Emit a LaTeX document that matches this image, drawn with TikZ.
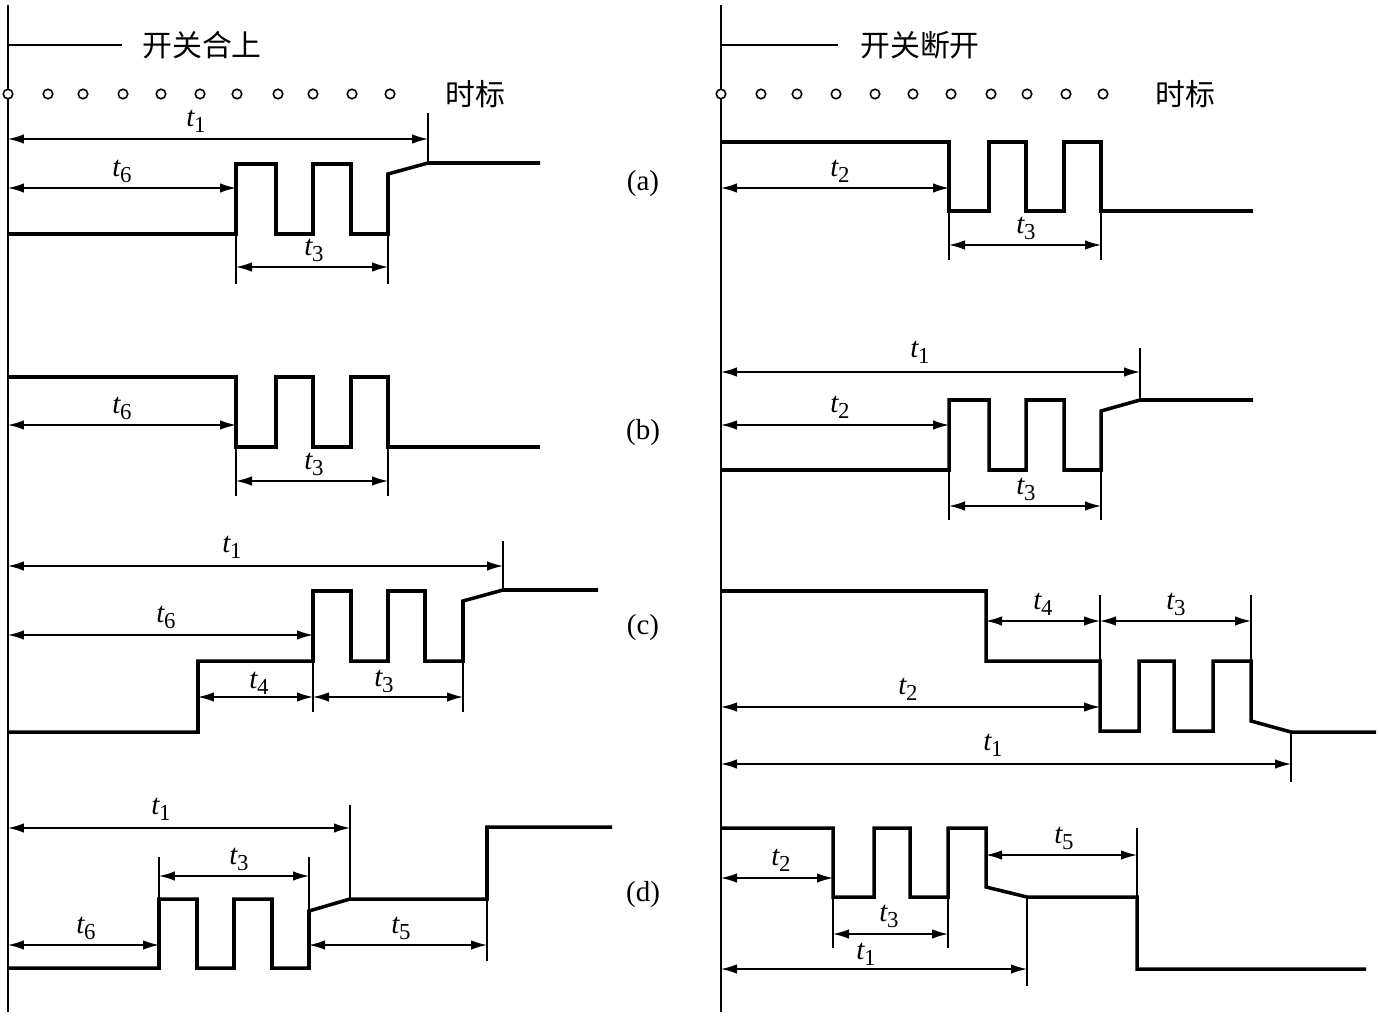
\documentclass[tikz,border=0pt]{standalone}
\usepackage{fontspec}
\setmainfont{Liberation Serif}
\newfontfamily\cjk{Noto Sans CJK SC}
\usetikzlibrary{arrows.meta,positioning}
\newcommand{\tsub}[1]{\textit{t}\kern-0.5pt\raisebox{-0.45ex}{\fontsize{13}{13}\selectfont #1}}

\begin{document}
\begin{tikzpicture}[x=0.02cm,y=-0.02cm]
 \tikzstyle{sig}=[line width=2pt]
 \tikzstyle{thin}=[line width=0.75pt]
 \tikzstyle{dim}=[line width=0.8pt,{Latex[length=3.2mm,width=1.9mm]}-{Latex[length=3.2mm,width=1.9mm]}]
 \tikzstyle{lbl}=[inner sep=0,font=\fontsize{16.5}{16.5}\selectfont]
 \tikzstyle{cn}=[inner sep=0,anchor=west,font=\cjk\fontsize{17}{17}\selectfont]
 \tikzstyle{dot}=[circle,draw,line width=0.9pt,fill=white,inner sep=0,minimum size=0.19cm]
 \useasboundingbox (0,0) rectangle (1379,1017);
 % axes
 \draw[line width=1pt] (8,5) -- (8,1012);
 \draw[line width=1pt] (721,5) -- (721,1012);
 % headers
 \draw[thin] (8,45) -- (122,45);
 \node[cn] (close) at (142,45) {开关合上};
 \draw[thin] (721,45) -- (838,45);
 \node[cn] (open) at (860,45) {开关断开};
 \foreach \x in {8,48,83,123,161,200,237,278,313,352,390}
   \node[dot] at (\x,94) {};
 \foreach \x in {721,761,797,836,875,913,951,991,1027,1066,1103}
   \node[dot] at (\x,94) {};
 \node[cn] (markL) at (445,94) {时标};
 \node[cn] (markR) at (1155,94) {时标};
 % row labels
 \node[lbl] (ra) at (643,184) {(a)};
 \node[lbl] (rb) at (643,433) {(b)};
 \node[lbl] (rc) at (643,628) {(c)};
 \node[lbl] (rd) at (643,895) {(d)};

 %%% (a) left
 \draw[sig] (8,234) -- (236,234) -- (236,164) -- (276,164) -- (276,234) -- (313,234) -- (313,164)
   -- (351,164) -- (351,234) -- (388,234) -- (388,174) -- (428,163) -- (540,163);
 \draw[thin] (428,113) -- (428,163);
 \draw[thin] (236,234) -- (236,284);
 \draw[thin] (388,234) -- (388,284);
 \draw[dim] (8,139) -- (428,139);
 \node[lbl] (a1) at (196,121) {\tsub{1}};
 \draw[dim] (8,188) -- (236,188);
 \node[lbl] (a6) at (122,171) {\tsub{6}};
 \draw[dim] (236,267) -- (388,267);
 \node[lbl] (a3) at (314,250) {\tsub{3}};

 %%% (a) right
 \draw[sig] (721,142) -- (949,142) -- (949,211) -- (989,211) -- (989,142) -- (1026,142) -- (1026,211)
   -- (1064,211) -- (1064,142) -- (1101,142) -- (1101,211) -- (1253,211);
 \draw[thin] (949,211) -- (949,260);
 \draw[thin] (1101,211) -- (1101,260);
 \draw[dim] (721,188) -- (949,188);
 \node[lbl] (a2r) at (840,171) {\tsub{2}};
 \draw[dim] (949,245) -- (1101,245);
 \node[lbl] (a3r) at (1026,228) {\tsub{3}};

 %%% (b) left
 \draw[sig] (8,377) -- (236,377) -- (236,447) -- (276,447) -- (276,377) -- (313,377) -- (313,447)
   -- (351,447) -- (351,377) -- (388,377) -- (388,447) -- (540,447);
 \draw[thin] (236,447) -- (236,496);
 \draw[thin] (388,447) -- (388,496);
 \draw[dim] (8,425) -- (236,425);
 \node[lbl] (b6) at (122,408) {\tsub{6}};
 \draw[dim] (236,481) -- (388,481);
 \node[lbl] (b3) at (314,464) {\tsub{3}};

 %%% (b) right
 \draw[sig] (721,470) -- (949,470) -- (949,400) -- (989,400) -- (989,470) -- (1026,470) -- (1026,400)
   -- (1064,400) -- (1064,470) -- (1101,470) -- (1101,411) -- (1140,400) -- (1253,400);
 \draw[thin] (1140,348) -- (1140,400);
 \draw[thin] (949,470) -- (949,520);
 \draw[thin] (1101,470) -- (1101,520);
 \draw[dim] (721,372) -- (1140,372);
 \node[lbl] (b1r) at (920,352) {\tsub{1}};
 \draw[dim] (721,425) -- (949,425);
 \node[lbl] (b2r) at (840,407) {\tsub{2}};
 \draw[dim] (949,506) -- (1101,506);
 \node[lbl] (b3r) at (1026,489) {\tsub{3}};

 %%% (c) left
 \draw[sig] (8,732) -- (198,732) -- (198,661) -- (313,661) -- (313,591) -- (351,591) -- (351,661)
   -- (388,661) -- (388,591) -- (425,591) -- (425,661) -- (463,661) -- (463,601) -- (503,590) -- (598,590);
 \draw[thin] (503,541) -- (503,590);
 \draw[thin] (313,661) -- (313,712);
 \draw[thin] (463,661) -- (463,712);
 \draw[dim] (8,566) -- (503,566);
 \node[lbl] (c1) at (232,547) {\tsub{1}};
 \draw[dim] (8,635) -- (313,635);
 \node[lbl] (c6) at (166,617) {\tsub{6}};
 \draw[dim] (198,697) -- (313,697);
 \node[lbl] (c4) at (259,683) {\tsub{4}};
 \draw[dim] (313,697) -- (463,697);
 \node[lbl] (c3) at (384,681) {\tsub{3}};

 %%% (c) right
 \draw[sig] (721,591) -- (986,591) -- (986,661) -- (1100,661) -- (1100,731) -- (1139,731) -- (1139,661)
   -- (1174,661) -- (1174,731) -- (1213,731) -- (1213,661) -- (1251,661) -- (1251,721) -- (1291,732) -- (1376,732);
 \draw[thin] (1100,595) -- (1100,661);
 \draw[thin] (1251,595) -- (1251,661);
 \draw[thin] (1291,732) -- (1291,782);
 \draw[dim] (986,621) -- (1100,621);
 \node[lbl] (c4r) at (1043,604) {\tsub{4}};
 \draw[dim] (1100,621) -- (1251,621);
 \node[lbl] (c3r) at (1176,604) {\tsub{3}};
 \draw[dim] (721,707) -- (1100,707);
 \node[lbl] (c2r) at (908,689) {\tsub{2}};
 \draw[dim] (721,764) -- (1291,764);
 \node[lbl] (c1r) at (993,745) {\tsub{1}};

 %%% (d) left
 \draw[sig] (8,968) -- (159,968) -- (159,899) -- (197,899) -- (197,968) -- (234,968) -- (234,899)
   -- (272,899) -- (272,968) -- (309,968) -- (309,911) -- (350,899) -- (487,899) -- (487,827) -- (612,827);
 \draw[thin] (350,805) -- (350,899);
 \draw[thin] (159,857) -- (159,899);
 \draw[thin] (309,857) -- (309,911);
 \draw[thin] (487,899) -- (487,961);
 \draw[dim] (8,828) -- (350,828);
 \node[lbl] (d1) at (161,809) {\tsub{1}};
 \draw[dim] (159,876) -- (309,876);
 \node[lbl] (d3) at (239,859) {\tsub{3}};
 \draw[dim] (8,945) -- (159,945);
 \node[lbl] (d6) at (86,928) {\tsub{6}};
 \draw[dim] (309,945) -- (487,945);
 \node[lbl] (d5) at (401,928) {\tsub{5}};

 %%% (d) right
 \draw[sig] (721,828) -- (833,828) -- (833,897) -- (874,897) -- (874,828) -- (910,828) -- (910,897)
   -- (948,897) -- (948,828) -- (986,828) -- (986,887) -- (1027,897) -- (1137,897) -- (1137,969) -- (1366,969);
 \draw[thin] (1137,828) -- (1137,897);
 \draw[thin] (833,897) -- (833,948);
 \draw[thin] (948,897) -- (948,948);
 \draw[thin] (1027,897) -- (1027,986);
 \draw[dim] (721,878) -- (833,878);
 \node[lbl] (d2r) at (781,860) {\tsub{2}};
 \draw[dim] (833,934) -- (948,934);
 \node[lbl] (d3r) at (889,916) {\tsub{3}};
 \draw[dim] (721,969) -- (1027,969);
 \node[lbl] (d1r) at (866,954) {\tsub{1}};
 \draw[dim] (986,855) -- (1137,855);
 \node[lbl] (d5r) at (1064,838) {\tsub{5}};
\end{tikzpicture}
\end{document}
